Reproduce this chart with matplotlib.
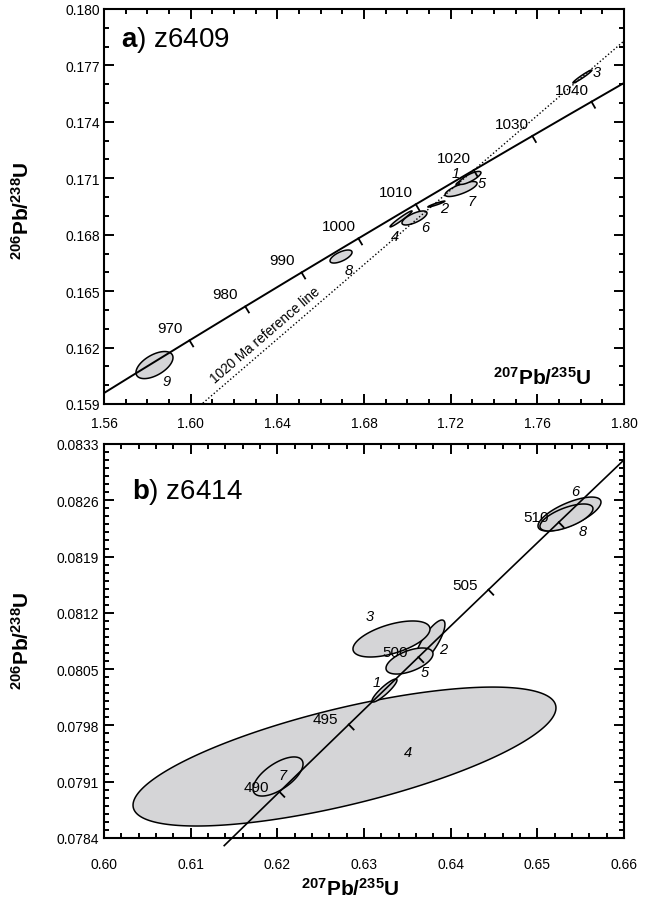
import numpy as np
import matplotlib.pyplot as plt
from matplotlib.ticker import MultipleLocator, FixedLocator, FormatStrFormatter

plt.rcParams['font.family'] = ['Liberation Sans', 'DejaVu Sans']
plt.rcParams['mathtext.fontset'] = 'custom'
plt.rcParams['mathtext.rm'] = 'Liberation Sans'
plt.rcParams['mathtext.it'] = 'Liberation Sans:italic'
plt.rcParams['mathtext.bf'] = 'Liberation Sans:bold'

# U decay constants (1/yr)
L238 = 1.55125e-10
L235 = 9.8485e-10

# panel a: z6409  (x = 207Pb/235U, y = 206Pb/238U, half extents, correlation)
a_ids = ['9', '8', '4', '6', '2', '7', '1', '5', '3']
a_x = [1.5833, 1.6694, 1.6971, 1.7033, 1.7134, 1.7248, 1.7271, 1.7289, 1.7808]
a_y = [0.16107, 0.16684, 0.16884, 0.16889, 0.16963, 0.17043, 0.17091, 0.17102, 0.17641]
a_ex = [0.00854, 0.00508, 0.00508, 0.00577, 0.00392, 0.00738, 0.00462, 0.00508, 0.00438]
a_ey = [0.00072, 0.000346, 0.000425, 0.000372, 0.00016, 0.000399, 0.000266, 0.000346, 0.000346]
a_rho = [0.55, 0.65, 0.97, 0.7, 0.95, 0.75, 0.9, 0.8, 0.97]
a_lab_x = [1.5891, 1.6727, 1.6943, 1.7081, 1.7169, 1.7298, 1.7224, 1.7344, 1.7875]
a_lab_y = [0.16022, 0.16612, 0.16793, 0.16841, 0.16942, 0.16979, 0.17128, 0.17075, 0.17665]
a_ages = [970, 980, 990, 1000, 1010, 1020, 1030, 1040]
a_ref_age = 1020

# panel b: z6414
b_ids = ['4', '7', '1', '2', '3', '5', '6', '8']
b_x = [0.62775, 0.62008, 0.63236, 0.63761, 0.63317, 0.63525, 0.65371, 0.65336]
b_y = [0.079413, 0.079165, 0.080234, 0.080837, 0.080875, 0.080601, 0.082429, 0.082386]
b_ex = [0.02440, 0.002885, 0.001442, 0.00173, 0.004442, 0.002711, 0.003634, 0.003058]
b_ey = [0.000864, 0.000243, 0.000143, 0.000274, 0.000224, 0.000162, 0.000211, 0.000168]
b_rho = [0.70, 0.64, 0.9, 0.8, 0.55, 0.55, 0.7, 0.65]
b_lab_x = [0.63508, 0.62065, 0.6315, 0.63911, 0.63069, 0.63704, 0.65434, 0.65527]
b_lab_y = [0.07947, 0.079183, 0.08034, 0.08075, 0.081161, 0.080464, 0.082715, 0.082218]
b_ages = [490, 495, 500, 505, 510]

fill = '#d5d5d7'


def conc(t_ma):
    t = np.asarray(t_ma) * 1e6
    return np.exp(L235 * t) - 1, np.exp(L238 * t) - 1


def ellipse(ax, cx, cy, ex, ey, rho):
    t = np.linspace(0, 2 * np.pi, 300)
    phi = np.arccos(rho)
    ax.fill(cx + ex * np.cos(t), cy + ey * np.cos(t + phi),
            facecolor=fill, edgecolor='black', lw=1.1, zorder=2)


def age_ticks(ax, ages, off, ticklen=7):
    for a in ages:
        x0, y0 = conc(a)
        x1, y1 = conc(a + 0.5)
        p0 = ax.transData.transform((x0, y0))
        p1 = ax.transData.transform((x1, y1))
        d = (p1 - p0) / np.hypot(*(p1 - p0))
        n = np.array([d[1], -d[0]])
        pts = ax.transData.inverted().transform([p0, p0 + n * ticklen])
        ax.plot(pts[:, 0], pts[:, 1], color='black', lw=1.3, zorder=4)
        ax.annotate(str(a), (x0, y0), xytext=off, textcoords='offset pixels',
                    ha='center', va='center', fontsize=11, zorder=6)


def style(ax, xmaj, xmin, ymaj, ymin, xfmt, yfmt, xpad, ypad):
    ax.xaxis.set_major_locator(FixedLocator(xmaj))
    ax.xaxis.set_minor_locator(MultipleLocator(xmin))
    ax.yaxis.set_major_locator(FixedLocator(ymaj))
    ax.yaxis.set_minor_locator(MultipleLocator(ymin))
    ax.xaxis.set_major_formatter(FormatStrFormatter(xfmt))
    ax.yaxis.set_major_formatter(FormatStrFormatter(yfmt))
    ax.tick_params(which='both', direction='in', top=True, right=True, width=1.4, labelsize=10)
    ax.tick_params(which='major', length=7.2)
    ax.tick_params(which='minor', length=3.6)
    ax.tick_params(axis='x', pad=xpad)
    ax.tick_params(axis='y', pad=ypad)
    for s in ax.spines.values():
        s.set_linewidth(1.5)


fig = plt.figure(figsize=(6.52, 9.04), dpi=100)
ax1 = fig.add_axes([104 / 652, 1 - 405 / 904, 520 / 652, 395 / 904])
ax2 = fig.add_axes([104 / 652, 1 - 839 / 904, 520 / 652, 394 / 904])

# ---- panel a
ax1.set_xlim(1.56, 1.80)
ax1.set_ylim(0.159, 0.180)
style(ax1, [1.56, 1.60, 1.64, 1.68, 1.72, 1.76, 1.80], 0.01,
      [0.159, 0.162, 0.165, 0.168, 0.171, 0.174, 0.177, 0.180], 0.001,
      '%.2f', '%.3f', 8.5, 3)

for i in range(len(a_ids)):
    ellipse(ax1, a_x[i], a_y[i], a_ex[i], a_ey[i], a_rho[i])
    ax1.text(a_lab_x[i], a_lab_y[i], a_ids[i], style='italic', fontsize=10.5,
             ha='center', va='center', zorder=6)

tt = np.linspace(940, 1060, 400)
cx, cy = conc(tt)
ax1.plot(cx, cy, color='black', lw=1.4, zorder=3)
age_ticks(ax1, a_ages, (-20, 12))

# 1020 Ma reference line (through origin)
rx, ry = conc(a_ref_age)
xs = np.array([1.55, 1.81])
ax1.plot(xs, xs * ry / rx, color='black', lw=1.0, ls=(0, (1, 1.6)), zorder=5)
q = ax1.transData.transform([(1.60, 1.60 * ry / rx), (1.80, 1.80 * ry / rx)])
ang = np.degrees(np.arctan2(q[1, 1] - q[0, 1], q[1, 0] - q[0, 0]))
ax1.text(1.6343, 0.16267, '1020 Ma reference line', rotation=ang, rotation_mode='anchor',
         ha='center', va='center', fontsize=9.8, zorder=6)

ax1.text(0.033, 0.906, r'$\mathbf{a}$) z6409', transform=ax1.transAxes, fontsize=20)
ax1.text(0.842, 0.068, r'$\mathbf{{}^{207}Pb/{}^{235}U}$', transform=ax1.transAxes,
         ha='center', va='center', fontsize=15)

# ---- panel b
ax2.set_xlim(0.60, 0.66)
ax2.set_ylim(0.0784, 0.0833)
style(ax2, [0.60, 0.61, 0.62, 0.63, 0.64, 0.65, 0.66], 0.002,
      [0.0784, 0.0791, 0.0798, 0.0805, 0.0812, 0.0819, 0.0826, 0.0833], 0.0001,
      '%.2f', '%.4f', 13.5, 3.6)

for i in range(len(b_ids)):
    ellipse(ax2, b_x[i], b_y[i], b_ex[i], b_ey[i], b_rho[i])
    ax2.text(b_lab_x[i], b_lab_y[i], b_ids[i], style='italic', fontsize=10.5,
             ha='center', va='center', zorder=6)

tt = np.linspace(486, 514.5, 300)
cx, cy = conc(tt)
ax2.plot(cx, cy, color='black', lw=1.2, zorder=3, clip_on=False)
age_ticks(ax2, b_ages, (-23, 5))

ax2.text(0.054, 0.863, r'$\mathbf{b}$) z6414', transform=ax2.transAxes, fontsize=20)

fig.text(350 / 652, 1 - 889 / 904, r'$\mathbf{{}^{207}Pb/{}^{235}U}$',
         ha='center', va='center', fontsize=15)
for yc in [211, 641]:
    fig.text(22 / 652, 1 - yc / 904, r'$\mathbf{{}^{206}Pb/{}^{238}U}$', rotation=90,
             ha='center', va='center', fontsize=15)

fig.savefig('out.png', dpi=100)
